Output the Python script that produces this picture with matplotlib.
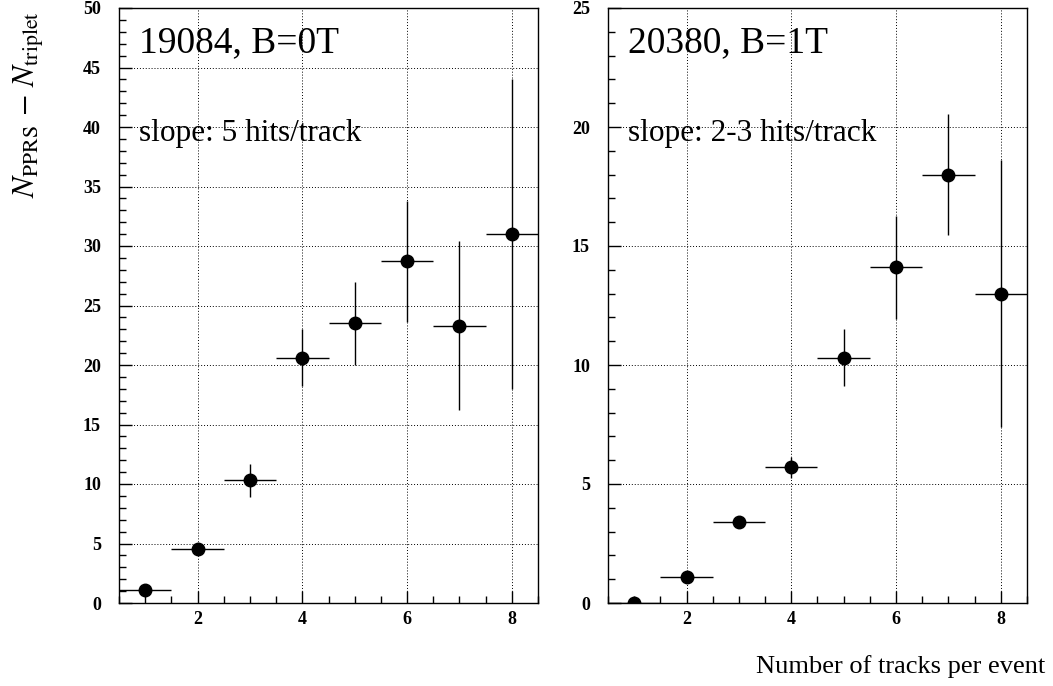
import numpy as np
import matplotlib.pyplot as plt
from matplotlib.ticker import MultipleLocator

# number of tracks per event
tracks = [1, 2, 3, 4, 5, 6, 7, 8]

# run 19084, B=0T
run0_label = '19084, B=0T'
run0_slope = 'slope: 5 hits/track'
run0_y = [1.1, 4.5, 10.3, 20.6, 23.5, 28.7, 23.3, 31.0]
run0_err = [0.2, 0.3, 1.4, 2.4, 3.5, 5.1, 7.1, 13.0]

# run 20380, B=1T
run1_label = '20380, B=1T'
run1_slope = 'slope: 2-3 hits/track'
run1_y = [0.0, 1.1, 3.4, 5.7, 10.3, 14.1, 18.0, 13.0]
run1_err = [0.05, 0.1, 0.25, 0.45, 1.2, 2.15, 2.55, 5.6]

plt.rcParams['font.family'] = 'Liberation Serif'
plt.rcParams['mathtext.fontset'] = 'stix'

fig = plt.figure(figsize=(10.53, 6.86), dpi=100)
W, H = 1053, 686
ax0 = fig.add_axes([119 / W, 1 - 603 / H, 419 / W, 595 / H])
ax1 = fig.add_axes([608 / W, 1 - 603 / H, 419 / W, 595 / H])

panels = [
    (ax0, run0_y, run0_err, run0_label, run0_slope, 50, 5),
    (ax1, run1_y, run1_err, run1_label, run1_slope, 25, 5),
]

for ax, y, err, lab, slope, ymax, ymaj in panels:
    ax.errorbar(tracks, y, xerr=0.5, yerr=err, fmt='o', color='black',
                ms=9, elinewidth=1.0, capsize=0, zorder=3)
    ax.set_xlim(0.5, 8.5)
    ax.set_ylim(0, ymax)
    ax.xaxis.set_major_locator(MultipleLocator(2))
    ax.xaxis.set_minor_locator(MultipleLocator(0.5))
    ax.yaxis.set_major_locator(MultipleLocator(ymaj))
    ax.yaxis.set_minor_locator(MultipleLocator(1))
    ax.tick_params(which='both', direction='in', top=False, right=False)
    ax.tick_params(which='major', length=9, width=1)
    ax.tick_params(which='minor', length=5, width=1)
    ax.tick_params(axis='x', pad=6)
    ax.tick_params(axis='y', pad=13)
    for t in ax.get_xticklabels() + ax.get_yticklabels():
        t.set_fontweight('bold')
        t.set_fontsize(13)
    ax.grid(True, which='major', linestyle=(0, (1, 2)), color='black', linewidth=0.7)
    for s in ax.spines.values():
        s.set_linewidth(1.0)
    ax.text(0.047, 0.925, lab, transform=ax.transAxes, fontsize=27,
            ha='left', va='baseline')
    ax.text(0.047, 0.777, slope, transform=ax.transAxes, fontsize=22.5,
            ha='left', va='baseline')

fig.text(0.027, 1 - 104 / H, r'$N_{\rm PPRS}\,-\,N_{\rm triplet}$', rotation=90,
         fontsize=22.5, ha='center', va='center')
fig.text(1045 / W, 1 - 673 / H, 'Number of tracks per event', fontsize=19,
         ha='right', va='baseline')

fig.savefig('out.png', dpi=100)
